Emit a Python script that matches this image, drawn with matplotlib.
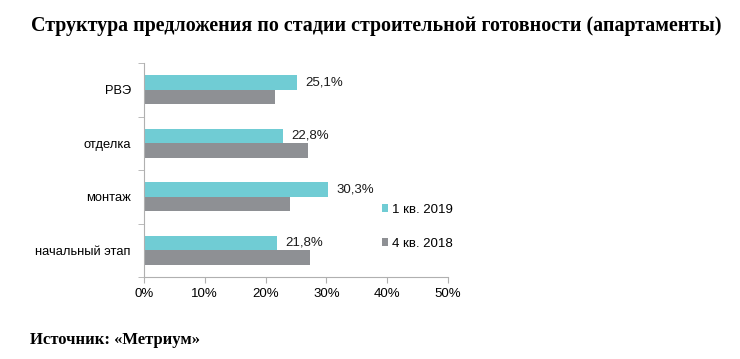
import matplotlib.pyplot as plt
import numpy as np

categories = ['РВЭ', 'отделка', 'монтаж', 'начальный этап']
q1_2019 = [25.1, 22.8, 30.3, 21.8]
q4_2018 = [21.6, 27.0, 24.0, 27.3]
series_names = ['1 кв. 2019', '4 кв. 2018']
xticks = [0, 10, 20, 30, 40, 50]

c_2019 = '#70CCD4'
c_2018 = '#8E9094'
axis_col = '#B0B0B0'

fig = plt.figure(figsize=(7.4, 3.59), dpi=100)
ax = fig.add_axes([0.1946, 0.2284, 0.4108, 0.5961])

n = len(categories)
pos = np.arange(n)[::-1]  # top category first
h = 0.275
b1 = ax.barh(pos + h / 2, q1_2019, height=h, color=c_2019, label=series_names[0])
b2 = ax.barh(pos - h / 2, q4_2018, height=h, color=c_2018, label=series_names[1])

for y, v in zip(pos, q1_2019):
    ax.annotate(f'{v:.1f}%'.replace('.', ','), (v, y + h / 2), xytext=(6, 0),
                textcoords='offset points', va='center', ha='left',
                fontsize=9.5, family='Liberation Sans', color='#1a1a1a')

ax.set_xlim(0, 50)
ax.set_ylim(-0.5, n - 0.5)
ax.set_xticks(xticks)
ax.set_xticklabels([f'{t}%' for t in xticks], family='Liberation Sans', fontsize=9.5)
ax.set_yticks(pos)
ax.set_yticklabels(categories, family='Liberation Sans', fontsize=9.3)
ax.set_yticks(np.arange(n + 1) - 0.5, minor=True)
ax.tick_params(axis='y', which='major', length=0, pad=9.5)
ax.tick_params(axis='y', which='minor', length=4, color=axis_col)
ax.tick_params(axis='x', length=4, color=axis_col, pad=4)
for s in ['top', 'right']:
    ax.spines[s].set_visible(False)
for s in ['left', 'bottom']:
    ax.spines[s].set_color(axis_col)
    ax.spines[s].set_linewidth(0.8)

ax.legend(handles=[b1, b2], loc='upper left', bbox_to_anchor=(0.500, 0.465),
          bbox_transform=fig.transFigure, frameon=False,
          handlelength=0.5, handleheight=0.5, handletextpad=0.3,
          labelspacing=1.65, prop={'family': 'Liberation Sans', 'size': 9.5})

fig.text(0.508, 0.928, 'Структура предложения по стадии строительной готовности (апартаменты)',
         ha='center', va='center', family='Liberation Serif', weight='bold', fontsize=14.45)
fig.text(0.041, 0.053, 'Источник: «Метриум»', ha='left', va='center',
         family='Liberation Serif', weight='bold', fontsize=12)

fig.savefig('out.png', dpi=100)
